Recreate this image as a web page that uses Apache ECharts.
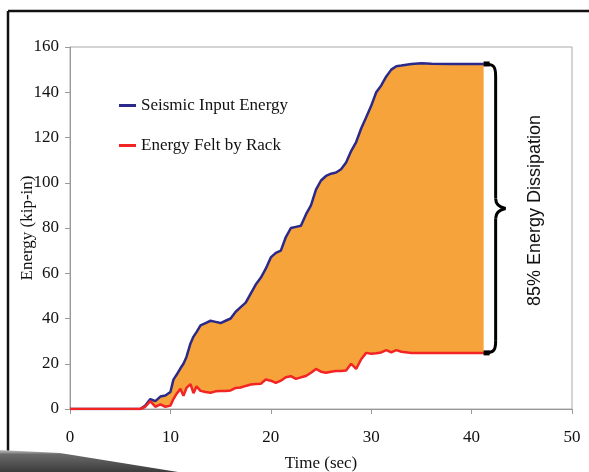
<!DOCTYPE html>
<html>
<head>
<meta charset="utf-8">
<script src="https://cdn.jsdelivr.net/npm/echarts@6/dist/echarts.min.js"></script>
<style>
html,body{margin:0;padding:0;background:#fff;}
#c{width:589px;height:472px;}
</style>
</head>
<body>
<div id="c"></div>
<script>
// ---- data ----
const timeSec = [0, 7, 7.5, 8, 8.5, 9, 9.5, 10, 10.3, 10.6, 11, 11.3, 11.6, 12, 12.3, 12.6, 13, 13.5, 14, 14.5, 15, 15.5, 16, 16.5, 17, 17.5, 18, 18.5, 19, 19.5, 20, 20.5, 21, 21.5, 22, 22.5, 23, 23.5, 24, 24.5, 25, 25.5, 26, 26.5, 27, 27.5, 28, 28.5, 29, 29.5, 30, 30.5, 31, 31.5, 32, 32.5, 33, 34, 35, 36, 38, 41.2];
const seismicInput = [0, 0, 1.5, 4.4, 3.5, 5.5, 6, 7.5, 13, 15, 18, 20, 23, 29, 32, 34, 37, 38, 39, 38.5, 38, 39, 40, 43, 45, 47, 51, 55, 58, 62, 67, 69, 70, 76, 80, 80.5, 81, 86, 90, 97, 101, 103, 104, 104.5, 106, 109, 114, 118, 124, 129, 134, 140, 143, 147, 150, 151.5, 151.8, 152.5, 152.8, 152.6, 152.5, 152.5];
const feltByRack = [0, 0, 1, 3.5, 1, 2, 1, 1.5, 4.4, 6.6, 8.9, 5.8, 9.3, 11, 7, 10, 8, 7.5, 7.2, 7.8, 8, 8, 8.2, 9.3, 9.5, 10.2, 10.8, 11, 11.2, 13, 12.5, 11.5, 12.5, 14, 14.5, 13.3, 14, 14.6, 16, 17.7, 16.5, 16, 16.5, 16.8, 16.8, 17, 20, 17.7, 22, 24.8, 24.4, 24.6, 25, 26, 25, 26, 25.3, 24.8, 24.8, 24.8, 24.8, 24.8];
const xTicks = {min: 0, max: 50, interval: 10};
const yTicks = {min: 0, max: 160, interval: 20};
const seriesNames = ['Seismic Input Energy', 'Energy Felt by Rack'];
const annotation = '85% Energy Dissipation';

(function () {
const pairs = (ys) => timeSec.map((t, i) => [t, ys[i]]);

const serif = '"Liberation Serif", "Times New Roman", serif';
const sans = '"Liberation Sans", Arial, sans-serif';

const chart = echarts.init(document.getElementById('c'));
chart.setOption({
  animation: false,
  backgroundColor: '#fff',
  grid: {left: 70, right: 17, top: 47, bottom: 63, show: true, borderColor: '#aaa', borderWidth: 1,
         containLabel: false, outerBoundsMode: 'none'},
  legend: {
    data: seriesNames,
    orient: 'vertical',
    left: 114, top: 92,
    icon: 'rect', itemWidth: 17, itemHeight: 3, itemGap: 23,
    textStyle: {fontFamily: serif, fontSize: 17, color: '#111'}
  },
  xAxis: {
    type: 'value', min: xTicks.min, max: xTicks.max, interval: xTicks.interval,
    name: 'Time (sec)', nameLocation: 'middle', nameGap: 46, nameMoveOverlap: false,
    nameTextStyle: {fontFamily: serif, fontSize: 17, color: '#111'},
    axisLine: {show: true, lineStyle: {color: '#999'}},
    axisTick: {show: true, length: 5, lineStyle: {color: '#999'}},
    axisLabel: {fontFamily: serif, fontSize: 17, color: '#111', margin: 20},
    splitLine: {show: false}
  },
  yAxis: {
    type: 'value', min: yTicks.min, max: yTicks.max, interval: yTicks.interval,
    name: 'Energy (kip-in)', nameLocation: 'middle', nameGap: 34, nameMoveOverlap: false,
    nameTextStyle: {fontFamily: serif, fontSize: 17, color: '#111'},
    axisLine: {show: true, lineStyle: {color: '#999'}},
    axisTick: {show: true, length: 5, lineStyle: {color: '#999'}},
    axisLabel: {fontFamily: serif, fontSize: 17, color: '#111', margin: 11},
    splitLine: {show: false}
  },
  series: [
    {name: 'gap', type: 'custom', data: [[0, 0]], silent: true, z: 1,
     renderItem: function (params, api) {
       const upper = timeSec.map((t, i) => api.coord([t, seismicInput[i]]));
       const lower = timeSec.map((t, i) => api.coord([t, feltByRack[i]])).reverse();
       return {type: 'polygon', shape: {points: upper.concat(lower)}, style: {fill: '#F7A33B'}};
     }},
    {name: seriesNames[0], type: 'line', data: pairs(seismicInput), symbol: 'none', z: 3,
     lineStyle: {color: '#2B2A8A', width: 2.5}, itemStyle: {color: '#2B2A8A'}},
    {name: seriesNames[1], type: 'line', data: pairs(feltByRack), symbol: 'none', z: 4,
     lineStyle: {color: '#F22424', width: 2.5}, itemStyle: {color: '#F22424'}}
  ]
});

const last = timeSec.length - 1;
const pTop = chart.convertToPixel({gridIndex: 0}, [timeSec[last], seismicInput[last]]);
const pBot = chart.convertToPixel({gridIndex: 0}, [timeSec[last], feltByRack[last]]);
const x0 = pTop[0], yT = pTop[1], yB = pBot[1];
const xv = x0 + 12, xp = x0 + 22, ym = (yT + yB) / 2;
const bs = {stroke: '#000', lineWidth: 3, fill: null};
const bz = 100;

chart.setOption({
  graphic: [
    {type: 'line', shape: {x1: 8, y1: 11, x2: 589, y2: 11}, style: {stroke: '#111', lineWidth: 2.5}},
    {type: 'line', shape: {x1: 8, y1: 11, x2: 8, y2: 452}, style: {stroke: '#111', lineWidth: 2.5}},
    {type: 'bezierCurve', shape: {x1: x0, y1: yT, cpx1: x0 + 10, cpy1: yT, cpx2: xv, cpy2: yT + 2, x2: xv, y2: yT + 12}, style: bs, z: bz},
    {type: 'line', shape: {x1: xv, y1: yT + 12, x2: xv, y2: ym - 10}, style: bs, z: bz},
    {type: 'bezierCurve', shape: {x1: xv, y1: ym - 10, cpx1: xv, cpy1: ym - 3, cpx2: xv + 5, cpy2: ym - 1, x2: xp, y2: ym}, style: bs, z: bz},
    {type: 'bezierCurve', shape: {x1: xp, y1: ym, cpx1: xv + 5, cpy1: ym + 1, cpx2: xv, cpy2: ym + 3, x2: xv, y2: ym + 10}, style: bs, z: bz},
    {type: 'line', shape: {x1: xv, y1: ym + 10, x2: xv, y2: yB - 12}, style: bs, z: bz},
    {type: 'bezierCurve', shape: {x1: xv, y1: yB - 12, cpx1: xv, cpy1: yB - 2, cpx2: x0 + 10, cpy2: yB, x2: x0, y2: yB}, style: bs, z: bz},
    {type: 'rect', shape: {x: x0, y: yT - 2.5, width: 6, height: 5}, style: {fill: '#000'}, z: bz},
    {type: 'rect', shape: {x: x0, y: yB - 2.5, width: 6, height: 5}, style: {fill: '#000'}, z: bz},
    {type: 'text', x: 535, y: ym + 2, rotation: Math.PI / 2,
     style: {text: annotation, font: `18px ${sans}`, fill: '#111', align: 'center', verticalAlign: 'middle'}, z: bz},
    {type: 'polygon', shape: {points: [[0, 450], [60, 453], [178, 472], [0, 472]]},
     style: {fill: {type: 'linear', x: 0, y: 0, x2: 0, y2: 1, colorStops: [
       {offset: 0, color: '#c8c8c8'}, {offset: 0.2, color: '#6a6a6a'}, {offset: 1, color: '#3c3c3c'}]}}, z: bz}
  ]
});
})();
</script>
</body>
</html>
